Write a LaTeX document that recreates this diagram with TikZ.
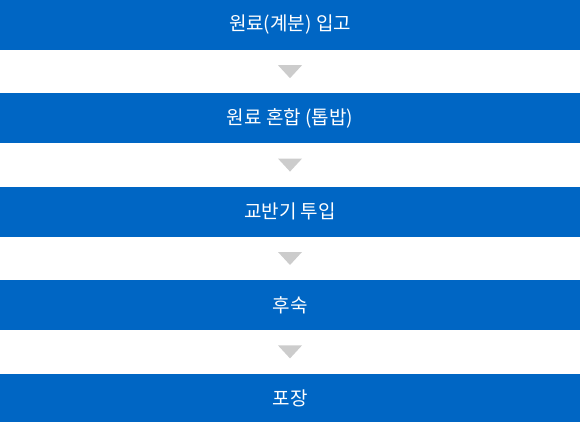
\documentclass[tikz,border=0pt]{standalone}
\usepackage{fontspec}
\newfontfamily\krfont{Noto Sans CJK KR}
\usetikzlibrary{positioning}
\definecolor{stepblue}{RGB}{0,102,196}
\definecolor{arrowgray}{RGB}{204,204,204}

\begin{document}
\begin{tikzpicture}[
    stepbox/.style={fill=stepblue, text=white, minimum width=580pt, minimum height=50pt,
        inner sep=0pt, font=\krfont\fontsize{19}{22}\selectfont},
    node distance=43pt
]
        \useasboundingbox (0,0) rectangle (580pt,-422pt);

        \node[stepbox] (s1) at (290pt,-25pt) {원료(계분) 입고};
        \node[stepbox, below=of s1] (s2) {원료 혼합 (톱밥)};
        \node[stepbox, below=of s2] (s3) {교반기 투입};
        \node[stepbox, below=of s3] (s4) {후숙};
        \node[stepbox, below=of s4] (s5) {포장};

        \foreach \i in {1,...,4} {
            \fill[arrowgray] ([xshift=-12pt,yshift=-15pt]s\i.south) -- ([xshift=12pt,yshift=-15pt]s\i.south)
                -- ([yshift=-28pt]s\i.south) -- cycle;
        }
    \end{tikzpicture}
\end{document}
